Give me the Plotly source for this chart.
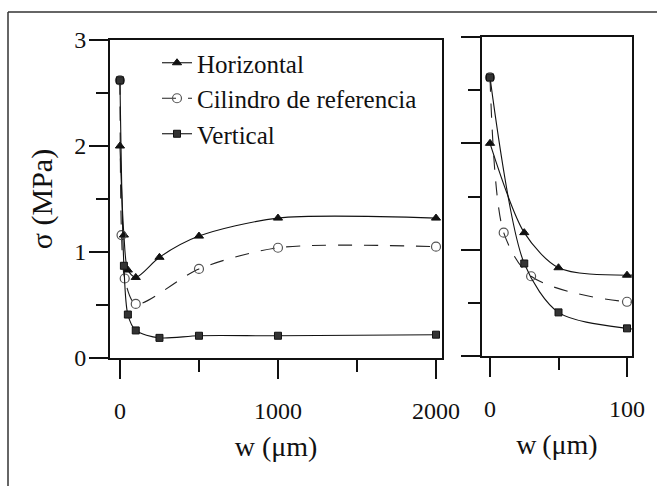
import plotly.graph_objects as go

# ---------------- data ----------------
w_horizontal = [0, 25, 50, 100, 250, 500, 1000, 2000]
s_horizontal = [2.0, 1.16, 0.83, 0.76, 0.95, 1.15, 1.32, 1.32]

w_cilindro = [0, 10, 30, 100, 500, 1000, 2000]
s_cilindro = [2.62, 1.16, 0.75, 0.51, 0.84, 1.04, 1.05]

w_vertical = [0, 25, 50, 100, 250, 500, 1000, 2000]
s_vertical = [2.62, 0.87, 0.41, 0.26, 0.19, 0.21, 0.21, 0.22]

names = ["Horizontal", "Cilindro de referencia", "Vertical"]
x_ticks_left = [0, 1000, 2000]
x_ticks_right = [0, 100]
y_ticks = [0, 1, 2, 3]

# ---------------- layout helpers ----------------
W, H = 657, 486
FONT = "Liberation Serif"


def px_x(p):
    return p / W


def px_y(p):
    return 1 - p / H


series = [
    (w_horizontal, s_horizontal, names[0],
     dict(symbol="triangle-up", size=8, color="#111111", line=dict(color="#111111", width=1)),
     dict(color="#111111", width=1.1, shape="spline", smoothing=0.8)),
    (w_cilindro, s_cilindro, names[1],
     dict(symbol="circle-open", size=9, color="#555555", line=dict(width=1.2)),
     dict(color="#222222", width=1.1, dash="14px,12px", shape="spline", smoothing=0.8)),
    (w_vertical, s_vertical, names[2],
     dict(symbol="square", size=7, color="#333333", line=dict(color="#111111", width=1)),
     dict(color="#111111", width=1.1, shape="spline", smoothing=0.8)),
]

fig = go.Figure()
for xs, ys, nm, mk, ln in series:
    fig.add_trace(go.Scatter(x=xs, y=ys, name=nm, mode="lines+markers",
                             marker=mk, line=ln, xaxis="x", yaxis="y",
                             showlegend=True))
for xs, ys, nm, mk, ln in series:
    fig.add_trace(go.Scatter(x=xs, y=ys, name=nm, mode="lines+markers",
                             marker=mk, line=ln, xaxis="x2", yaxis="y2",
                             showlegend=False, cliponaxis=True))

axis_common = dict(
    showline=True, linecolor="#111111", linewidth=2, mirror=True,
    showgrid=False, zeroline=False, ticks="outside", tickcolor="#111111",
    tickwidth=1.5, ticklen=19,
    tickfont=dict(family=FONT, size=24, color="#111111"),
)

fig.update_layout(
    width=W, height=H,
    margin=dict(l=0, r=0, t=0, b=0),
    paper_bgcolor="white", plot_bgcolor="white",
    font=dict(family=FONT, color="#111111"),
    xaxis=dict(
        **axis_common, domain=[px_x(110), px_x(442)], range=[-63, 2038],
        tickmode="array", tickvals=x_ticks_left,
        ticktext=[str(v) for v in x_ticks_left],
        minor=dict(dtick=500, tick0=0, ticks="outside", ticklen=12,
                   tickcolor="#111111", tickwidth=1.5, showgrid=False),
        ticklabelstandoff=11, anchor="y",
        title=dict(text="w (μm)", font=dict(family=FONT, size=28), standoff=14),
        automargin=False,
    ),
    yaxis=dict(
        **axis_common, domain=[px_y(358), px_y(40)], range=[0, 3],
        tickmode="array", tickvals=y_ticks, ticktext=[str(v) for v in y_ticks],
        minor=dict(dtick=0.5, tick0=0, ticks="outside", ticklen=12,
                   tickcolor="#111111", tickwidth=1.5, showgrid=False),
        ticklabelstandoff=-2, anchor="x",
        title=dict(text="σ (MPa)", font=dict(family=FONT, size=30), standoff=13),
        automargin=False,
    ),
    xaxis2=dict(
        **axis_common, domain=[px_x(482), px_x(632)], range=[-5.84, 103.65],
        tickmode="array", tickvals=x_ticks_right,
        ticktext=[str(v) for v in x_ticks_right],
        minor=dict(dtick=50, tick0=0, ticks="outside", ticklen=12,
                   tickcolor="#111111", tickwidth=1.5, showgrid=False),
        ticklabelstandoff=11, anchor="y2",
        title=dict(text="w\u2009(μm)", font=dict(family=FONT, size=28), standoff=14),
        automargin=False,
    ),
    yaxis2=dict(
        **axis_common, domain=[px_y(356), px_y(37)], range=[0, 3],
        tickmode="array", tickvals=y_ticks, showticklabels=False,
        minor=dict(dtick=0.5, tick0=0, ticks="outside", ticklen=12,
                   tickcolor="#111111", tickwidth=1.5, showgrid=False),
        anchor="x2", automargin=False,
    ),
    legend=dict(
        x=px_x(157), y=px_y(40), xanchor="left", yanchor="top",
        bgcolor="rgba(0,0,0,0)", borderwidth=0,
        font=dict(family=FONT, size=25, color="#111111"),
        itemwidth=30, tracegroupgap=0,
    ),
    showlegend=True,
    shapes=[
        dict(type="line", xref="paper", yref="paper",
             x0=px_x(8), x1=1.0, y0=px_y(12), y1=px_y(12),
             line=dict(color="#333333", width=1.5)),
        dict(type="line", xref="paper", yref="paper",
             x0=px_x(8), x1=px_x(8), y0=px_y(12), y1=0,
             line=dict(color="#333333", width=1.5)),
    ],
)

fig.write_html(
    "out.html",
    config={"displayModeBar": False},
    post_script="document.body.style.margin='0';document.body.style.overflow='hidden';",
)
